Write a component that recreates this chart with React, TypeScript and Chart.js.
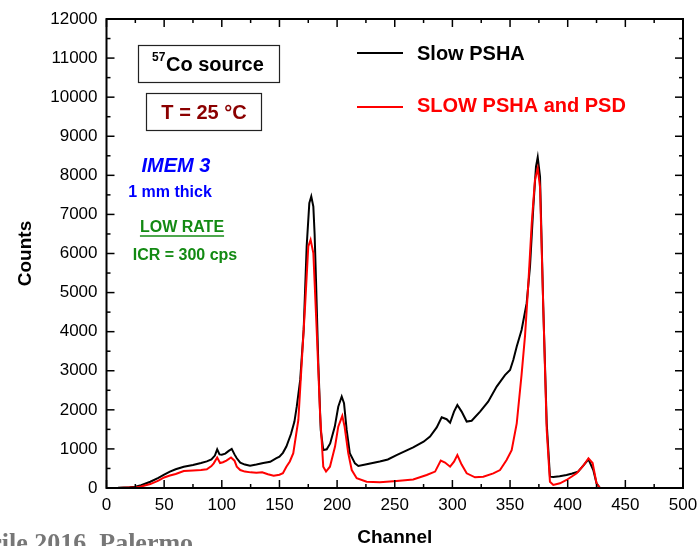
import React, { useEffect, useRef } from "react";
import { Chart, registerables } from "chart.js";

Chart.register(...registerables);

// ---- data ----
const blackChannels = [
  0, 10, 20, 25, 30, 38, 45, 50, 55, 60, 67, 75, 82, 87, 91, 94, 96, 98, 100, 103, 106, 108.6, 111, 113, 116, 120,
  124.5, 130, 136, 142, 147, 150, 153, 156, 160, 163, 165, 168, 171, 173.6, 175.9, 177.6, 179.4, 180.5, 181.7, 183.7,
  185.8, 188, 191, 194, 198, 201, 204, 206, 208.3, 211, 215.5, 218.4, 225.6, 237, 244, 252, 266, 275, 280.6, 286.4,
  290.7, 295, 298, 301.4, 304.3, 308, 312.4, 316.7, 324, 331, 338.4, 345.6, 350, 352.8, 355.8, 360, 364.4, 367.3,
  370.2, 372.5, 374, 376, 378.8, 381.8, 384.6, 387.5, 393, 399, 404, 409, 413.5, 418, 422.2, 425, 428, 440, 500,
];
const blackCounts = [
  0, 5, 20, 35, 70, 160, 260, 340, 420, 480, 545, 590, 640, 680, 730, 830, 990, 860, 850, 880, 950, 1000, 860, 760, 650,
  600, 570, 600, 640, 670, 760, 800, 900, 1060, 1380, 1700, 2080, 2765, 4045, 6180, 7290, 7460, 7200, 6500, 5325, 3190,
  1485, 970, 990, 1140, 1570, 2080, 2340, 2170, 1485, 890, 630, 563, 610, 680, 730, 845, 1040, 1185, 1315, 1550, 1810,
  1760, 1670, 1955, 2125, 1955, 1700, 1720, 1955, 2210, 2595, 2890, 3020, 3275, 3620, 4045, 4730, 5665, 7200, 8225,
  8465, 7970, 4640, 1655, 290, 280, 300, 333, 370, 420, 570, 735, 460, 120, 0, 0, 0,
];

const redChannels = [
  0, 10, 20, 25, 30, 38, 45, 50, 55, 60, 67, 75, 82, 87, 91, 93, 96, 98.5, 101, 104, 108, 111, 113, 116, 120, 125, 130,
  135, 140, 145, 150, 153, 156, 159, 162, 166.4, 169.3, 172.2, 175, 177, 179.4, 182.3, 185.2, 188, 190.4, 193.8, 198.2,
  201, 204.5, 206.5, 209.7, 212.7, 217, 225.6, 237, 251.7, 266, 277.7, 285, 289.9, 293.6, 298, 301.4, 304.3, 308,
  312.4, 319.6, 326.8, 335.5, 341.3, 347, 351.4, 355.8, 360, 363, 365.8, 368.8, 371.6, 374, 376, 378.8, 381.8, 384.6,
  387.5, 393.3, 399, 407.8, 413.5, 418, 421.6, 425, 428, 500,
];
const redCounts = [
  0, 3, 10, 15, 40, 100, 190, 270, 320, 360, 435, 450, 460, 480, 560, 630, 780, 640, 660, 700, 780, 700, 545, 460, 420,
  400, 390, 400, 350, 315, 340, 380, 545, 680, 890, 1740, 3200, 4640, 6180, 6350, 6010, 4045, 1920, 545, 420, 545, 1060,
  1570, 1845, 1570, 890, 460, 250, 160, 145, 180, 220, 333, 420, 700, 650, 545, 675, 845, 600, 375, 273, 290, 375, 460,
  717, 970, 1655, 2900, 3900, 5200, 6775, 7885, 8180, 7700, 4640, 1485, 160, 77, 120, 205, 375, 570, 760, 640, 120, 0,
  0,
];

const seriesNames = ["Slow PSHA", "SLOW PSHA and PSD"];
const xMin = 0, xMax = 500, xStep = 50, xMinor = 25;
const yMin = 0, yMax = 12000, yStep = 1000, yMinor = 500;

const FONT = "'Liberation Sans', Arial, Helvetica, sans-serif";

const decor = {
  id: "decor",
  afterDatasetsDraw(chart: any) {
    const { ctx, chartArea: a, scales } = chart;
    const xs = scales.x, ys = scales.y;
    ctx.save();
    ctx.strokeStyle = "#000";
    ctx.lineWidth = 1.5;
    const seg = (x1: number, y1: number, x2: number, y2: number) => {
      ctx.beginPath();
      ctx.moveTo(x1, y1);
      ctx.lineTo(x2, y2);
      ctx.stroke();
    };
    for (let v = xMin; v <= xMax; v += xMinor) {
      const len = v % xStep === 0 ? 8 : 4;
      const px = xs.getPixelForValue(v);
      seg(px, a.bottom, px, a.bottom - len);
      seg(px, a.top, px, a.top + len);
    }
    for (let v = yMin; v <= yMax; v += yMinor) {
      const len = v % yStep === 0 ? 8 : 4;
      const py = ys.getPixelForValue(v);
      seg(a.left, py, a.left + len, py);
      seg(a.right, py, a.right - len, py);
    }
    ctx.lineWidth = 2;
    ctx.strokeRect(a.left, a.top, a.right - a.left, a.bottom - a.top);

    // legend
    ctx.lineWidth = 1.8;
    ctx.strokeStyle = "#000";
    seg(357, 53, 403, 53);
    ctx.strokeStyle = "#ff0000";
    seg(357, 107, 403, 107);
    ctx.textBaseline = "middle";
    ctx.textAlign = "left";
    ctx.font = `bold 20px ${FONT}`;
    ctx.fillStyle = "#000";
    ctx.fillText(seriesNames[0], 417, 54);
    ctx.fillStyle = "#ff0000";
    ctx.fillText(seriesNames[1], 417, 106);

    // box 1: 57Co source
    ctx.lineWidth = 1.2;
    ctx.strokeStyle = "#222";
    ctx.strokeRect(138.5, 45.5, 141, 37);
    ctx.fillStyle = "#000";
    ctx.font = `bold 12px ${FONT}`;
    ctx.fillText("57", 152, 58);
    ctx.font = `bold 20px ${FONT}`;
    ctx.fillText("Co source", 166, 65);

    // box 2: T = 25 °C
    ctx.strokeRect(146.5, 93.5, 115, 37);
    ctx.fillStyle = "#8b0000";
    ctx.textAlign = "center";
    ctx.fillText("T = 25 °C", 204, 113);

    // IMEM 3
    ctx.fillStyle = "#0000ff";
    ctx.font = `italic bold 20px ${FONT}`;
    ctx.fillText("IMEM 3", 176, 166);
    ctx.font = `bold 16px ${FONT}`;
    ctx.fillText("1 mm thick", 170, 193);

    // green texts
    ctx.fillStyle = "#138a13";
    ctx.fillText("LOW RATE", 182, 228);
    const w = ctx.measureText("LOW RATE").width;
    ctx.strokeStyle = "#138a13";
    ctx.lineWidth = 1.5;
    seg(182 - w / 2, 236, 182 + w / 2, 236);
    ctx.fillText("ICR = 300 cps", 185, 256);
    ctx.restore();
  },
};

export default function App() {
  const ref = useRef<HTMLCanvasElement | null>(null);
  useEffect(() => {
    if (!ref.current) return;
    const chart = new Chart(ref.current, {
      type: "line",
      data: {
        datasets: [
          {
            label: seriesNames[0],
            data: blackChannels.map((c, i) => ({ x: c, y: blackCounts[i] })),
            borderColor: "#000000",
            borderWidth: 2,
            pointRadius: 0,
            tension: 0,
            order: 1,
          },
          {
            label: seriesNames[1],
            data: redChannels.map((c, i) => ({ x: c, y: redCounts[i] })),
            borderColor: "#ff0000",
            borderWidth: 2,
            pointRadius: 0,
            tension: 0,
            order: 0,
          },
        ],
      },
      options: {
        responsive: false,
        animation: false,
        layout: { padding: { left: 14, right: 14, top: 19, bottom: 0 } },
        plugins: { legend: { display: false }, tooltip: { enabled: false } },
        scales: {
          x: {
            type: "linear",
            min: xMin,
            max: xMax,
            grid: { display: false, drawTicks: false },
            border: { display: false },
            ticks: {
              stepSize: xStep,
              padding: 7,
              color: "#000",
              font: { family: FONT, size: 17 },
              callback: (v: any) => String(v),
            },
            title: {
              display: true,
              text: "Channel",
              color: "#000",
              font: { family: FONT, size: 19, weight: "bold" },
              padding: { top: 0, bottom: -3 },
            },
            afterFit: (s: any) => {
              s.height = 58;
              s.paddingLeft = 0;
              s.paddingRight = 0;
            },
          },
          y: {
            type: "linear",
            min: yMin,
            max: yMax,
            grid: { display: false, drawTicks: false },
            border: { display: false },
            ticks: {
              stepSize: yStep,
              padding: 9,
              color: "#000",
              font: { family: FONT, size: 17 },
              callback: (v: any) => String(v),
            },
            title: {
              display: true,
              text: "Counts",
              color: "#000",
              font: { family: FONT, size: 19, weight: "bold" },
              padding: { top: 0, bottom: 0 },
            },
            afterFit: (s: any) => {
              s.width = 92.5;
              s.paddingTop = 0;
              s.paddingBottom = 0;
            },
          },
        },
      },
      plugins: [decor],
    });
    return () => chart.destroy();
  }, []);
  return (
    <div style={{ position: "absolute", left: 0, top: 0, width: 697, height: 546, overflow: "hidden", background: "#fff" }}>
      <canvas ref={ref} width={697} height={546} style={{ display: "block" }} />
      <div
        style={{
          position: "absolute",
          left: -43,
          top: 530,
          fontFamily: "'Liberation Serif', 'Times New Roman', serif",
          fontWeight: "bold",
          fontSize: 26,
          lineHeight: 1,
          color: "#777",
          whiteSpace: "nowrap",
        }}
      >
        Aprile 2016, Palermo
      </div>
    </div>
  );
}
